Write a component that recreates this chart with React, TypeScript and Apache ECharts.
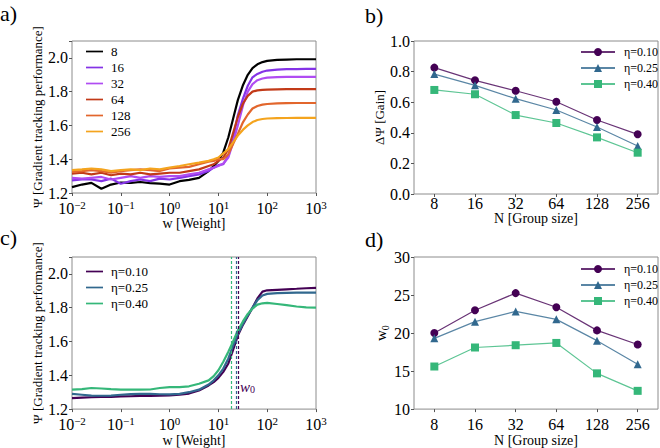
import React, { useEffect, useRef } from 'react';
import * as echarts from 'echarts';

// ---------- data ----------
const W = [0.01, 0.016, 0.025, 0.04, 0.063, 0.1, 0.16, 0.25, 0.4, 0.63, 1, 1.6, 2.5, 4, 6.3, 8, 10, 12.6, 16, 20, 25, 32, 40, 50, 63, 80, 100, 160, 250, 400, 630, 1000];

const N_SIZES = ['8', '16', '32', '64', '128', '256'];

const PSI_N8 = [1.235, 1.25, 1.26, 1.225, 1.25, 1.262, 1.26, 1.265, 1.258, 1.255, 1.25, 1.27, 1.278, 1.29, 1.33, 1.36, 1.39, 1.44, 1.53, 1.64, 1.75, 1.84, 1.9, 1.94, 1.962, 1.975, 1.982, 1.988, 1.99, 1.992, 1.992, 1.992];
const PSI_N16 = [1.275, 1.28, 1.28, 1.27, 1.285, 1.255, 1.27, 1.28, 1.27, 1.285, 1.28, 1.29, 1.3, 1.31, 1.33, 1.35, 1.365, 1.37, 1.42, 1.52, 1.66, 1.76, 1.835, 1.885, 1.905, 1.918, 1.925, 1.93, 1.933, 1.934, 1.935, 1.935];
const PSI_N32 = [1.29, 1.285, 1.29, 1.295, 1.28, 1.29, 1.3, 1.29, 1.3, 1.295, 1.3, 1.3, 1.31, 1.32, 1.34, 1.35, 1.36, 1.375, 1.41, 1.5, 1.6, 1.72, 1.8, 1.845, 1.868, 1.878, 1.883, 1.886, 1.887, 1.888, 1.888, 1.888];
const PSI_N64 = [1.315, 1.32, 1.31, 1.32, 1.305, 1.315, 1.31, 1.32, 1.31, 1.315, 1.32, 1.32, 1.33, 1.34, 1.36, 1.37, 1.39, 1.41, 1.46, 1.555, 1.65, 1.73, 1.775, 1.8, 1.808, 1.811, 1.812, 1.814, 1.815, 1.815, 1.815, 1.815];
const PSI_N128 = [1.325, 1.33, 1.335, 1.33, 1.32, 1.33, 1.335, 1.34, 1.335, 1.33, 1.345, 1.35, 1.355, 1.37, 1.385, 1.39, 1.4, 1.4, 1.43, 1.49, 1.55, 1.62, 1.665, 1.7, 1.715, 1.723, 1.727, 1.731, 1.732, 1.733, 1.733, 1.733];
const PSI_N256 = [1.335, 1.34, 1.345, 1.34, 1.33, 1.335, 1.34, 1.335, 1.345, 1.34, 1.35, 1.36, 1.37, 1.38, 1.39, 1.4, 1.41, 1.435, 1.46, 1.5, 1.54, 1.575, 1.6, 1.62, 1.632, 1.638, 1.641, 1.643, 1.644, 1.645, 1.645, 1.645];

const PSI_E10 = [1.265, 1.268, 1.27, 1.272, 1.272, 1.275, 1.276, 1.278, 1.278, 1.279, 1.281, 1.285, 1.292, 1.31, 1.34, 1.36, 1.385, 1.42, 1.47, 1.55, 1.635, 1.7, 1.75, 1.8, 1.855, 1.895, 1.903, 1.906, 1.909, 1.912, 1.915, 1.917];
const PSI_E25 = [1.29, 1.285, 1.28, 1.279, 1.28, 1.285, 1.289, 1.29, 1.29, 1.288, 1.287, 1.29, 1.3, 1.315, 1.345, 1.37, 1.4, 1.44, 1.5, 1.575, 1.645, 1.705, 1.755, 1.8, 1.845, 1.872, 1.882, 1.886, 1.888, 1.889, 1.889, 1.889];
const PSI_E40 = [1.315, 1.318, 1.325, 1.322, 1.318, 1.315, 1.316, 1.315, 1.316, 1.325, 1.33, 1.33, 1.335, 1.35, 1.37, 1.395, 1.43, 1.48, 1.54, 1.6, 1.665, 1.72, 1.763, 1.795, 1.818, 1.826, 1.828, 1.822, 1.815, 1.807, 1.802, 1.8];

const GAIN_E10 = [0.826, 0.743, 0.675, 0.603, 0.484, 0.39];
const GAIN_E25 = [0.784, 0.71, 0.623, 0.549, 0.438, 0.314];
const GAIN_E40 = [0.68, 0.652, 0.516, 0.464, 0.37, 0.27];

const W0_E10 = [20.0, 23.0, 25.25, 23.4, 20.35, 18.5];
const W0_E25 = [19.3, 21.5, 22.85, 21.8, 19.0, 15.9];
const W0_E40 = [15.6, 18.1, 18.4, 18.7, 14.7, 12.4];

const ETA_NAMES = ['η=0.10', 'η=0.25', 'η=0.40'];

// ---------- styles ----------
const FONT = 'Liberation Serif';
const N_COLORS = ['#000000', '#8433e6', '#b04cf2', '#c23a18', '#e2662c', '#f4a41e'];
const ETA_COLORS = ['#440154', '#31688e', '#35b779'];
const BORDER = '#8c8c8c';

const logLabel = (v: number) => {
  const e = Math.round(Math.log10(v));
  return `{b|10}{s|${e < 0 ? '\u2212' + -e : e}}`;
};
const richLog = {
  b: { fontSize: 16, fontFamily: FONT, color: '#000', lineHeight: 18 },
  s: { fontSize: 11, fontFamily: FONT, color: '#000', verticalAlign: 'top', lineHeight: 11 },
};

const tickStyle = { show: true, length: 3, inside: false, lineStyle: { color: '#555', width: 1 } };
const labelBase = { fontSize: 16, fontFamily: FONT, color: '#000', margin: 4 };
const nameStyle = { fontSize: 14, fontFamily: FONT, color: '#000' };
const LINE_ICON = 'path://M0,0 L20,0 L20,2 L0,2 Z';

export default function App() {
  const ref = useRef<HTMLDivElement>(null);
  useEffect(() => {
    if (!ref.current) return;
    const chart = echarts.init(ref.current, undefined, { renderer: 'svg' });

    const grids = [
      { left: 72, top: 41, width: 244, height: 152 },
      { left: 414, top: 41, width: 244, height: 153 },
      { left: 72, top: 257, width: 244, height: 155 },
      { left: 414, top: 257, width: 244, height: 154 },
    ].map((g) => ({ ...g, show: true, borderColor: BORDER, borderWidth: 1, backgroundColor: 'transparent' }));

    const logX = (gi: number, gap: number) => ({
      type: 'log', gridIndex: gi, min: 0.01, max: 1000, logBase: 10, splitNumber: 5,
      axisLine: { show: false }, axisTick: tickStyle, splitLine: { show: false },
      axisLabel: { ...labelBase, margin: 6, formatter: logLabel, rich: richLog },
      name: 'w [Weight]', nameLocation: 'middle', nameGap: gap, nameTextStyle: nameStyle,
    });
    const catX = (gi: number, margin: number, gap: number) => ({
      type: 'category', gridIndex: gi, data: N_SIZES, boundaryGap: true,
      axisLine: { show: false }, axisTick: { ...tickStyle, alignWithLabel: true }, splitLine: { show: false },
      axisLabel: { ...labelBase, margin },
      name: 'N [Group size]', nameLocation: 'middle', nameGap: gap, nameTextStyle: nameStyle,
    });
    const psiY = (gi: number) => ({
      type: 'value', gridIndex: gi, min: 1.2, max: 2.1, interval: 0.2,
      axisLine: { show: false }, axisTick: tickStyle, splitLine: { show: false },
      axisLabel: {
        ...labelBase,
        formatter: (v: number) => (Math.abs(v * 5 - Math.round(v * 5)) < 1e-6 ? v.toFixed(1) : ''),
      },
      name: 'Ψ [Gradient tracking performance]', nameLocation: 'middle', nameGap: 25,
      nameTextStyle: { ...nameStyle, fontSize: 13 },
    });

    const nSeries = [PSI_N8, PSI_N16, PSI_N32, PSI_N64, PSI_N128, PSI_N256].map((arr, k) => ({
      type: 'line', name: N_SIZES[k], xAxisIndex: 0, yAxisIndex: 0,
      data: W.map((w, i) => [w, arr[i]]), symbol: 'none',
      lineStyle: { width: 2.2, color: N_COLORS[k] }, itemStyle: { color: N_COLORS[k] },
    }));

    const symbols = ['circle', 'triangle', 'rect'];
    const markerSeries = (xi: number, arrs: number[][]) => arrs.map((arr, k) => ({
      type: 'line', name: ETA_NAMES[k], xAxisIndex: xi, yAxisIndex: xi,
      data: arr, symbol: symbols[k], symbolSize: 8,
      lineStyle: { width: 1.2, color: ETA_COLORS[k], opacity: 0.8 }, itemStyle: { color: ETA_COLORS[k] },
    }));

    const w0At32 = [W0_E10[2], W0_E25[2], W0_E40[2]];
    const cSeries = [PSI_E10, PSI_E25, PSI_E40].map((arr, k) => ({
      type: 'line', name: 'c ' + ETA_NAMES[k], xAxisIndex: 2, yAxisIndex: 2,
      data: W.map((w, i) => [w, arr[i]]), symbol: 'none',
      lineStyle: { width: 2.2, color: ETA_COLORS[k] }, itemStyle: { color: ETA_COLORS[k] },
      markLine: {
        silent: true, symbol: 'none', label: { show: false },
        lineStyle: { type: [3, 2], width: 1.2, color: ETA_COLORS[k] },
        data: [{ xAxis: w0At32[k] }],
      },
    }));

    const legendText = { fontSize: 13, fontFamily: FONT, color: '#000', lineHeight: 12, padding: [0, 0, 0, 3] };
    const legendTextB = { fontSize: 12, fontFamily: FONT, color: '#000', lineHeight: 12, padding: [0, 0, 0, 4] };

    chart.setOption({
      animation: false,
      textStyle: { fontFamily: FONT },
      grid: grids,
      xAxis: [logX(0, 20), catX(1, 1, 17), logX(2, 22), catX(3, 7, 23)],
      yAxis: [
        psiY(0),
        {
          type: 'value', gridIndex: 1, min: 0, max: 1, interval: 0.2,
          axisLine: { show: false }, axisTick: tickStyle, splitLine: { show: false },
          axisLabel: { ...labelBase, formatter: (v: number) => v.toFixed(1) },
          name: 'ΔΨ [Gain]', nameLocation: 'middle', nameGap: 22, nameTextStyle: { ...nameStyle, fontSize: 13 },
        },
        psiY(2),
        {
          type: 'value', gridIndex: 3, min: 10, max: 30, interval: 5,
          axisLine: { show: false }, axisTick: tickStyle, splitLine: { show: false },
          axisLabel: { ...labelBase },
          name: '{w|w}{s|0}', nameLocation: 'middle', nameGap: 12,
          nameTextStyle: {
            ...nameStyle,
            rich: {
              w: { fontSize: 15, fontFamily: FONT, color: '#000', lineHeight: 18 },
              s: { fontSize: 10, fontFamily: FONT, color: '#000', verticalAlign: 'bottom', lineHeight: 10 },
            },
          },
        },
      ],
      legend: [
        {
          data: N_SIZES.map((n) => ({ name: n, icon: LINE_ICON })), left: 81, top: 40, orient: 'vertical',
          itemWidth: 17, itemHeight: 2, itemGap: 3, textStyle: legendText,
        },
        {
          data: ETA_NAMES, left: 575, top: 41, orient: 'vertical',
          itemWidth: 34, itemHeight: 10, itemGap: 4, textStyle: legendTextB,
        },
        {
          data: ETA_NAMES.map((n) => ({ name: 'c ' + n, icon: LINE_ICON })), left: 81, top: 260, orient: 'vertical',
          itemWidth: 17, itemHeight: 2, itemGap: 3, textStyle: legendText,
          formatter: (name: string) => name.slice(2),
        },
        {
          data: ETA_NAMES, left: 575, top: 258, orient: 'vertical',
          itemWidth: 34, itemHeight: 10, itemGap: 4, textStyle: legendTextB,
        },
      ],
      series: [
        ...markerSeries(1, [GAIN_E10, GAIN_E25, GAIN_E40]),
        ...markerSeries(3, [W0_E10, W0_E25, W0_E40]),
        ...nSeries,
        ...cSeries,
      ],
    });

    const p = chart.convertToPixel({ xAxisIndex: 2, yAxisIndex: 2 }, [W0_E10[2], 1.333]) as number[];
    const letter = (t: string, x: number, y: number) => ({
      type: 'text', left: x, top: y,
      style: { text: t, fontSize: 22, fontFamily: FONT, fill: '#000' },
    });
    chart.setOption({
      graphic: [
        letter('a)', 0, 2),
        letter('b)', 365, 4),
        letter('c)', 0, 226),
        letter('d)', 365, 228),
        {
          type: 'text', x: p[0] + 2, y: p[1],
          style: {
            text: '{w|w}{s|0}', verticalAlign: 'middle',
            rich: {
              w: { fontSize: 15, fontFamily: FONT, fontStyle: 'italic', fill: ETA_COLORS[0], color: ETA_COLORS[0], lineHeight: 16 },
              s: { fontSize: 10, fontFamily: FONT, fill: ETA_COLORS[0], color: ETA_COLORS[0], verticalAlign: 'bottom', lineHeight: 10 },
            },
          },
        },
      ],
    });

    return () => chart.dispose();
  }, []);

  return <div ref={ref} style={{ position: 'absolute', left: 0, top: 0, width: 660, height: 448 }} />;
}
